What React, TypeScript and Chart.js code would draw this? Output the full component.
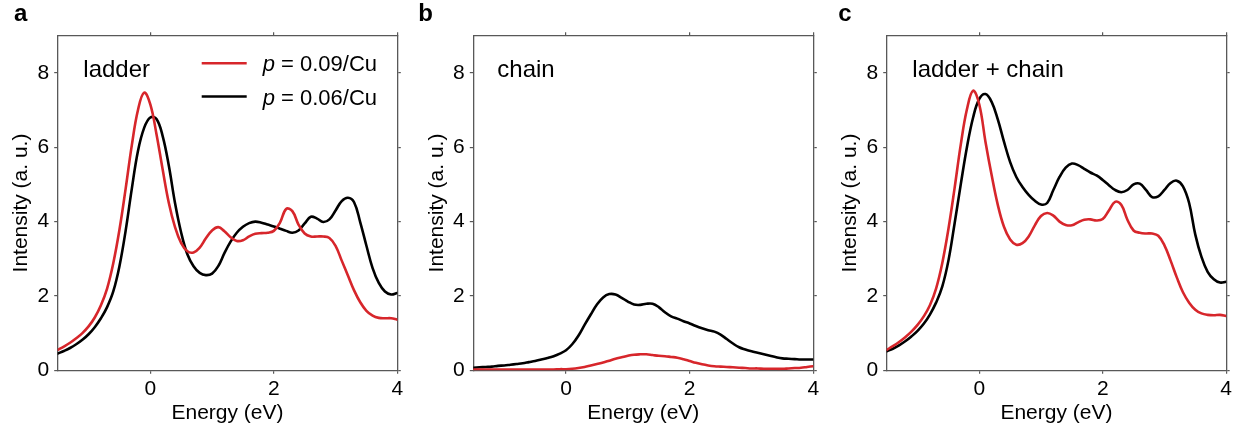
import React, { useEffect, useRef } from "react";
import { Chart, registerables } from "chart.js";

Chart.register(...registerables);

// ---------- data ----------
const energy = [
  -1.5, -1.4, -1.3, -1.2, -1.1, -1.0, -0.9, -0.8, -0.7, -0.6,
  -0.5, -0.4, -0.3, -0.2, -0.1, 0.0, 0.1, 0.2, 0.3, 0.4,
  0.5, 0.6, 0.7, 0.8, 0.9, 1.0, 1.1, 1.2, 1.3, 1.4,
  1.5, 1.6, 1.7, 1.8, 1.9, 2.0, 2.1, 2.2, 2.3, 2.4,
  2.5, 2.6, 2.7, 2.8, 2.9, 3.0, 3.1, 3.2, 3.3, 3.4,
  3.5, 3.6, 3.7, 3.8, 3.9, 4.0,
];

const ladderP09 = [
  0.55, 0.64, 0.74, 0.86, 1.0, 1.18, 1.42, 1.75, 2.2, 2.88,
  3.78, 4.88, 6.05, 7.0, 7.47, 7.15, 6.35, 5.4, 4.5, 3.85,
  3.42, 3.2, 3.17, 3.3, 3.55, 3.76, 3.85, 3.74, 3.58, 3.48,
  3.5, 3.6, 3.67, 3.69, 3.7, 3.75, 3.97, 4.34, 4.28, 3.92,
  3.68, 3.6, 3.6, 3.6, 3.56, 3.35, 2.95, 2.55, 2.15, 1.83,
  1.6, 1.47, 1.41, 1.4, 1.4, 1.36,
];
const ladderP06 = [
  0.45, 0.52, 0.6, 0.7, 0.82, 0.97, 1.16, 1.4, 1.7, 2.12,
  2.8, 3.75, 4.88, 5.9, 6.52, 6.8, 6.76, 6.3, 5.5, 4.5,
  3.7, 3.12, 2.8, 2.62, 2.56, 2.6, 2.8, 3.15, 3.46, 3.7,
  3.86, 3.96, 4.0, 3.97, 3.92, 3.87, 3.81, 3.75, 3.7, 3.76,
  3.95, 4.13, 4.08, 3.99, 4.06, 4.3, 4.55, 4.64, 4.52, 3.98,
  3.35, 2.75, 2.35, 2.12, 2.04, 2.08,
];

const chainP09 = [
  0.02, 0.02, 0.02, 0.02, 0.02, 0.02, 0.02, 0.02, 0.02, 0.02,
  0.02, 0.02, 0.02, 0.02, 0.03, 0.03, 0.04, 0.06, 0.09, 0.13,
  0.17, 0.21, 0.26, 0.31, 0.35, 0.39, 0.42, 0.43, 0.43, 0.41,
  0.39, 0.38, 0.36, 0.34, 0.3, 0.25, 0.2, 0.16, 0.13, 0.11,
  0.1, 0.09, 0.08, 0.07, 0.06, 0.05, 0.05, 0.04, 0.04, 0.04,
  0.04, 0.05, 0.06, 0.07, 0.09, 0.11,
];
const chainP06 = [
  0.07, 0.08, 0.09, 0.1, 0.12, 0.13, 0.15, 0.17, 0.19, 0.22,
  0.25, 0.29, 0.33, 0.38, 0.45, 0.54, 0.7, 0.93, 1.22, 1.5,
  1.77, 1.96, 2.05, 2.04, 1.95, 1.85, 1.77, 1.76, 1.79, 1.79,
  1.7, 1.56, 1.45, 1.39, 1.32, 1.26, 1.19, 1.13, 1.08, 1.04,
  0.96, 0.84, 0.72, 0.62, 0.56, 0.51, 0.47, 0.43, 0.39, 0.35,
  0.32, 0.31, 0.3, 0.29, 0.29, 0.29,
];

const sumP09 = [
  0.55, 0.65, 0.76, 0.89, 1.04, 1.22, 1.45, 1.75, 2.2, 2.88,
  3.8, 4.9, 6.07, 7.02, 7.52, 7.15, 6.15, 5.25, 4.45, 3.86,
  3.52, 3.38, 3.42, 3.6, 3.9, 4.15, 4.23, 4.16, 4.0, 3.91,
  3.9, 3.98, 4.05, 4.06, 4.03, 4.07, 4.3, 4.53, 4.45, 4.05,
  3.76, 3.7, 3.68, 3.68, 3.62, 3.36, 2.95, 2.5, 2.1, 1.82,
  1.63, 1.53, 1.49, 1.48, 1.49, 1.46,
];
const sumP06 = [
  0.51, 0.58, 0.67, 0.78, 0.91, 1.06, 1.25, 1.5, 1.82, 2.25,
  2.95, 3.95, 5.0, 6.0, 6.8, 7.3, 7.43, 7.22, 6.75, 6.15,
  5.6, 5.2, 4.93, 4.72, 4.56, 4.46, 4.5, 4.85, 5.2, 5.45,
  5.56, 5.52, 5.42, 5.32, 5.24, 5.12, 4.98, 4.85, 4.79, 4.85,
  5.0, 5.02, 4.85, 4.66, 4.68, 4.85, 5.04, 5.1, 4.95, 4.5,
  3.65, 3.05, 2.65, 2.45, 2.36, 2.38,
];

const xTickValues = [0, 2, 4];
const yTickValues = [0, 2, 4, 6, 8];
const xRange = [-1.5, 4];
const yRange = [0, 9];

const legendSymbol = "p";
const legendRest = [" = 0.09/Cu", " = 0.06/Cu"];
const panelLetters = ["a", "b", "c"];
const panelTitles = ["ladder", "chain", "ladder + chain"];
const xTitle = "Energy (eV)";
const yTitle = "Intensity (a. u.)";

// ---------- styling / layout ----------
const RED = "#d7262b";
const BLACK = "#000000";
const AXIS = "#585858";
const FONT = "'Liberation Sans', Arial, Helvetica, sans-serif";
const HEIGHT = 432;
const PLOT_TOP = 35.7;
const PLOT_BOTTOM = 370.3;
const TICK = 3.5;

type Spec = {
  left: number;
  width: number;
  plotLeft: number;
  plotRight: number;
  letterX: number;
  titleX: number;
  red: number[];
  black: number[];
  legend: boolean;
  idx: number;
};

const specs: Spec[] = [
  { left: 0, width: 412, plotLeft: 57.7, plotRight: 397.3, letterX: 14, titleX: 83.3, red: ladderP09, black: ladderP06, legend: true, idx: 0 },
  { left: 415, width: 412, plotLeft: 473.3, plotRight: 813.3, letterX: 418.3, titleX: 497.3, red: chainP09, black: chainP06, legend: false, idx: 1 },
  { left: 828, width: 407, plotLeft: 886.7, plotRight: 1226.3, letterX: 838.3, titleX: 912.3, red: sumP09, black: sumP06, legend: false, idx: 2 },
];

function toPoints(ys: number[]) {
  return ys.map((y, i) => ({ x: energy[i], y }));
}

function makeAnnot(spec: Spec) {
  return {
    id: "annot" + spec.idx,
    afterDraw(chart: any) {
      const ctx = chart.ctx as CanvasRenderingContext2D;
      ctx.save();
      ctx.fillStyle = "#000";
      ctx.textBaseline = "alphabetic";
      ctx.textAlign = "left";
      ctx.font = `bold 24px ${FONT}`;
      ctx.fillText(panelLetters[spec.idx], spec.letterX - spec.left, 21);
      ctx.font = `24px ${FONT}`;
      ctx.fillText(panelTitles[spec.idx], spec.titleX - spec.left, 77);
      if (spec.legend) {
        const colors = [RED, BLACK];
        const ys = [63.3, 96.5];
        for (let i = 0; i < 2; i++) {
          ctx.strokeStyle = colors[i];
          ctx.lineWidth = 2.6;
          ctx.beginPath();
          ctx.moveTo(201.7 - spec.left, ys[i]);
          ctx.lineTo(246.7 - spec.left, ys[i]);
          ctx.stroke();
          ctx.font = `italic 22px ${FONT}`;
          const tx = 262.7 - spec.left;
          ctx.fillText(legendSymbol, tx, ys[i] + 8);
          const w = ctx.measureText(legendSymbol).width;
          ctx.font = `22px ${FONT}`;
          ctx.fillText(legendRest[i], tx + w, ys[i] + 8);
        }
      }
      ctx.restore();
    },
  };
}

function Panel({ spec }: { spec: Spec }) {
  const ref = useRef<HTMLCanvasElement | null>(null);
  useEffect(() => {
    if (!ref.current) return;
    const yAxisWidth = spec.plotLeft - spec.left;
    const rightPad = spec.left + spec.width - spec.plotRight - TICK;
    const titleCenter = yAxisWidth - 36;
    const tickFont = { family: FONT, size: 21 };
    const grid = {
      display: true,
      drawOnChartArea: false,
      drawTicks: true,
      tickLength: TICK,
      color: AXIS,
      lineWidth: 1.2,
    };
    const border = { display: true, color: AXIS, width: 1.3 };
    const fixedTicks = (vals: number[]) => (scale: any) => {
      scale.ticks = vals.map((v) => ({ value: v }));
    };
    const lineStyle = {
      borderWidth: 2.6,
      showLine: true,
      pointRadius: 0,
      tension: 0.4,
      borderJoinStyle: "round",
      borderCapStyle: "round",
    };
    const chart = new Chart(ref.current, {
      type: "scatter",
      data: {
        datasets: [
          { label: legendRest[0], data: toPoints(spec.red), borderColor: RED, ...lineStyle },
          { label: legendRest[1], data: toPoints(spec.black), borderColor: BLACK, ...lineStyle },
        ],
      },
      options: {
        animation: false,
        responsive: false,
        devicePixelRatio: 1,
        layout: { padding: { top: PLOT_TOP - TICK, right: rightPad, left: 0, bottom: 0 } },
        plugins: { legend: { display: false }, tooltip: { enabled: false } },
        scales: {
          x: {
            type: "linear",
            position: "bottom",
            min: xRange[0],
            max: xRange[1],
            afterBuildTicks: fixedTicks(xTickValues),
            afterFit: (s: any) => { s.height = HEIGHT - PLOT_BOTTOM; },
            ticks: { color: "#000", font: tickFont, padding: 3, maxRotation: 0 },
            grid,
            border,
            title: {
              display: true,
              text: xTitle,
              color: "#000",
              font: tickFont,
              padding: { top: 0, bottom: 6 },
            },
          },
          x2: {
            type: "linear",
            position: "top",
            min: xRange[0],
            max: xRange[1],
            afterBuildTicks: fixedTicks(xTickValues),
            afterFit: (s: any) => { s.height = TICK; },
            ticks: { display: false },
            grid,
            border,
          },
          y: {
            type: "linear",
            position: "left",
            min: yRange[0],
            max: yRange[1],
            afterBuildTicks: fixedTicks(yTickValues),
            afterFit: (s: any) => { s.width = yAxisWidth; },
            ticks: { color: "#000", font: tickFont, padding: 5 },
            grid,
            border,
            title: {
              display: true,
              text: yTitle,
              color: "#000",
              font: tickFont,
              padding: { top: titleCenter - 12.6, bottom: 0 },
            },
          },
          y2: {
            type: "linear",
            position: "right",
            min: yRange[0],
            max: yRange[1],
            afterBuildTicks: fixedTicks(yTickValues),
            afterFit: (s: any) => { s.width = TICK; },
            ticks: { display: false },
            grid,
            border,
          },
        },
      } as any,
      plugins: [makeAnnot(spec)],
    });
    return () => chart.destroy();
  }, [spec]);
  return (
    <canvas
      ref={ref}
      width={spec.width}
      height={HEIGHT}
      style={{ position: "absolute", left: spec.left, top: 0, width: spec.width, height: HEIGHT }}
    />
  );
}

export default function App() {
  return (
    <div style={{ position: "absolute", left: 0, top: 0, width: 1235, height: HEIGHT, background: "#fff" }}>
      {specs.map((s) => (
        <Panel key={s.idx} spec={s} />
      ))}
    </div>
  );
}
